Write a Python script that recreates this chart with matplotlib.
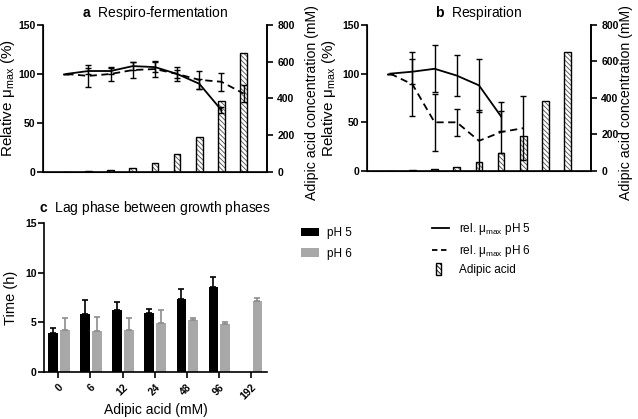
import numpy as np
import matplotlib.pyplot as plt
from matplotlib.patches import Rectangle, Patch
from matplotlib.lines import Line2D
from matplotlib.legend_handler import HandlerPatch

plt.rcParams['font.family'] = ['Liberation Sans', 'DejaVu Sans']
plt.rcParams['mathtext.fontset'] = 'custom'
plt.rcParams['mathtext.rm'] = 'Liberation Sans'
plt.rcParams['mathtext.bf'] = 'Liberation Sans:bold'
plt.rcParams['mathtext.default'] = 'regular'
plt.rcParams['hatch.linewidth'] = 0.6

# adipic acid concentrations (mM), panels a and b
conc = [0, 6, 12, 24, 48, 96, 192, 384, 650]

# panel a: respiro-fermentation, relative mu_max (%)
a_ph5 = [100, 103, 103, 108, 107, 100, 90, 63]
a_ph5_err = [0, 3, 3, 4, 5, 4, 5, 3]
a_ph6 = [100, 98, 100, 104, 105, 100, 94, 92, 80]
a_ph6_err = [0, 11, 7, 8, 8, 7, 9, 9, 9]

# panel b: respiration
b_ph5 = [100, 102, 105, 98, 88, 56]
b_ph5_err = [0, 13, 24, 21, 27, 15]
b_ph6 = [100, 89, 50, 50, 31, 40, 44]
b_ph6_err = [0, 33, 29, 14, 32, 22, 33]

# panel c: lag phase (h)
c_labels = ['0', '6', '12', '24', '48', '96', '192']
c_ph5 = [3.9, 5.8, 6.2, 5.9, 7.35, 8.55, np.nan]
c_ph5_err = [0.5, 1.5, 0.85, 0.45, 1.0, 1.0, 0]
c_ph6 = [4.25, 4.1, 4.25, 4.9, 5.25, 4.85, 7.1]
c_ph6_err = [1.15, 1.45, 1.15, 1.35, 0.15, 0.15, 0.35]

GRAY = '#a8a8a8'
TICK_FS = 7.5
LAB_FS = 10
HATCH = '\\' * 7


def style_axis(ax):
    for s in ('left', 'right', 'bottom'):
        ax.spines[s].set_linewidth(1.2)
    ax.spines['top'].set_visible(False)
    ax.tick_params(width=1.2, length=4, labelsize=TICK_FS)
    ax.tick_params(axis='y', pad=1.5)
    for lab in ax.get_yticklabels():
        lab.set_fontweight('bold')


def growth_panel(rect, title, ph5, ph5_err, ph6, ph6_err, lx, rx):
    ax = fig.add_axes(rect)
    ax2 = ax.twinx()
    x = np.arange(len(conc))
    # adipic acid bars on right axis
    ax2.bar(x, conc, width=0.3, color='white', edgecolor='0.3', linewidth=0,
            hatch=HATCH)
    ax2.bar(x, conc, width=0.3, fill=False, edgecolor='black', linewidth=1.0)
    ax2.set_ylim(0, 800)
    ax2.set_yticks([0, 200, 400, 600, 800])
    ax2.set_ylabel('Adipic acid concentration (mM)', fontsize=10.2)
    ax2.yaxis.set_label_coords(rx, 0.47)
    ax2.spines['right'].set_linewidth(1.2)
    ax2.spines['top'].set_visible(False)
    ax2.tick_params(width=1.2, length=4, labelsize=TICK_FS)
    for lab in ax2.get_yticklabels():
        lab.set_fontweight('bold')

    ax.set_zorder(ax2.get_zorder() + 1)
    ax.patch.set_visible(False)
    ax.errorbar(np.arange(len(ph5)), ph5, yerr=ph5_err, color='black', lw=1.3,
                capsize=2.5, elinewidth=1.0, capthick=1.0)
    ax.errorbar(np.arange(len(ph6)), ph6, yerr=ph6_err, color='black', lw=1.3,
                ls=(0, (4, 2.5)), capsize=2.5, elinewidth=1.0, capthick=1.0)
    ax.set_xlim(-1.05, len(conc) + 0.05)
    ax.set_ylim(0, 150)
    ax.set_yticks([0, 50, 100, 150])
    ax.set_xticks([])
    ax.set_ylabel('Relative μ$_{max}$ (%)', fontsize=11)
    ax.yaxis.set_label_coords(lx, 0.5)
    ax.set_title(title, fontsize=LAB_FS, pad=6)
    style_axis(ax)
    return ax


fig = plt.figure(figsize=(6.38, 4.19), dpi=100)

growth_panel([0.0674, 0.5895, 0.351, 0.351], r'$\bf{a}$  Respiro-fermentation',
             a_ph5, a_ph5_err, a_ph6, a_ph6_err, -0.118, 1.17)
growth_panel([0.5752, 0.5919, 0.351, 0.3485], r'$\bf{b}$  Respiration',
             b_ph5, b_ph5_err, b_ph6, b_ph6_err, -0.13, 1.125)

# panel c
axc = fig.add_axes([0.0694, 0.1129, 0.3486, 0.354])
xc = np.arange(len(c_labels))
bw = 0.3
ph5_err = [np.zeros(len(c_ph5)), c_ph5_err]
ph6_err = [np.zeros(len(c_ph6)), c_ph6_err]
axc.bar(xc - 0.17, c_ph5, width=bw, color='black', yerr=ph5_err,
        error_kw=dict(ecolor='black', capsize=2.5, elinewidth=1.2, capthick=1.2))
axc.bar(xc + 0.2, c_ph6, width=bw, color=GRAY, yerr=ph6_err,
        error_kw=dict(ecolor='#8c8c8c', capsize=2.5, elinewidth=1.2, capthick=1.2))
axc.set_xlim(-0.44, len(c_labels) - 0.51)
axc.set_ylim(0, 15)
axc.set_yticks([0, 5, 10, 15])
axc.set_xticks(xc)
axc.set_xticklabels(c_labels, rotation=45, ha='right', rotation_mode='anchor',
                    fontweight='bold')
axc.spines['right'].set_visible(False)
style_axis(axc)
for lab in axc.get_xticklabels():
    lab.set_fontweight('bold')
axc.set_ylabel('Time (h)', fontsize=10.5)
axc.yaxis.set_label_coords(-0.12, 0.5)
axc.set_xlabel('Adipic acid (mM)', fontsize=LAB_FS, labelpad=1)
axc.set_title(r'$\bf{c}$  Lag phase between growth phases', fontsize=LAB_FS, pad=8)

# legends
bar_handles = [Patch(facecolor='black', edgecolor='none'),
               Patch(facecolor=GRAY, edgecolor='none')]
fig.legend(bar_handles, ['pH 5', 'pH 6'], loc='upper left',
           bbox_to_anchor=(0.455, 0.483), frameon=False, fontsize=8.5,
           handlelength=1.5, handleheight=0.7, handletextpad=0.7, labelspacing=0.7)


def narrow_patch(legend, orig_handle, xdescent, ydescent, width, height, fontsize):
    return Rectangle((-xdescent + width * 0.25, -ydescent - height * 0.3),
                     width * 0.3, height * 1.5)


line_handles = [Line2D([], [], color='black', lw=1.3),
                Line2D([], [], color='black', lw=1.3, ls=(0, (3, 2))),
                Rectangle((0, 0), 1, 1, facecolor='white', edgecolor='black',
                          hatch=HATCH, lw=1.0)]
fig.legend(line_handles, ['rel. μ$_{max}$ pH 5', 'rel. μ$_{max}$ pH 6', 'Adipic acid'],
           loc='upper left', bbox_to_anchor=(0.66, 0.497), frameon=False,
           fontsize=8.5, handlelength=1.5, handletextpad=0.8, labelspacing=0.45,
           handler_map={Rectangle: HandlerPatch(patch_func=narrow_patch)})

fig.savefig('out.png', dpi=100)
